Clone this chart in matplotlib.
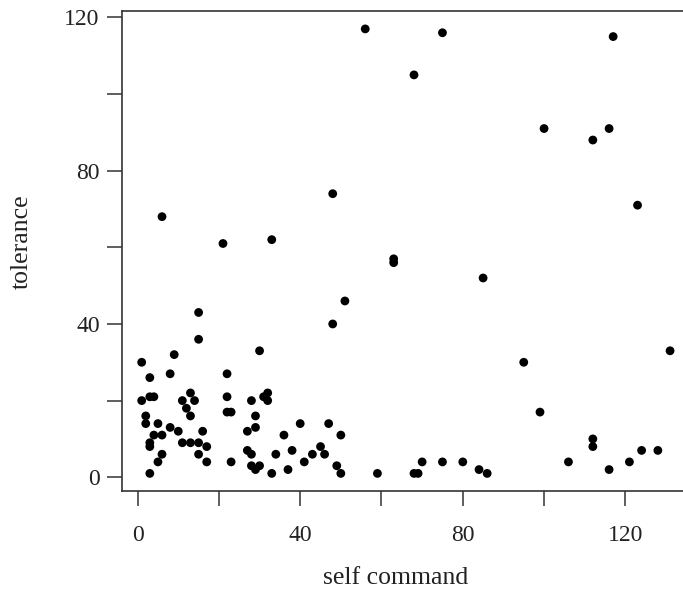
import matplotlib.pyplot as plt

# values
self_command = [56, 48, 6, 21, 33, 63, 63, 51,
                75, 117, 68, 100, 116, 112, 123, 85,
                48, 95, 131, 99, 47, 50, 49, 50, 59, 68, 69, 70, 75, 80, 84, 86,
                106, 112, 112, 116, 121, 124, 128,
                15, 15, 1, 9, 3, 8, 22, 30, 1, 3, 4, 11, 13, 14, 12, 13, 2, 2, 5,
                4, 6, 3, 3, 8, 10, 11, 13, 15, 16, 17, 15, 6, 5, 17, 3,
                22, 22, 23, 23, 28, 31, 32, 32, 29, 29, 27, 27, 28, 28, 29, 30,
                33, 34, 36, 37, 38, 40, 41, 43, 45, 46]
tolerance = [117, 74, 68, 61, 62, 57, 56, 46,
             116, 115, 105, 91, 91, 88, 71, 52,
             40, 30, 33, 17, 14, 11, 3, 1, 1, 1, 1, 4, 4, 4, 2, 1,
             4, 10, 8, 2, 4, 7, 7,
             43, 36, 30, 32, 26, 27, 27, 33, 20, 21, 21, 20, 22, 20, 18, 16, 16, 14, 14,
             11, 11, 9, 8, 13, 12, 9, 9, 9, 12, 8, 6, 6, 4, 4, 1,
             21, 17, 17, 4, 20, 21, 22, 20, 16, 13, 12, 7, 6, 3, 2, 3,
             1, 6, 11, 2, 7, 14, 4, 6, 8, 6]

x_ticks = [0, 20, 40, 60, 80, 100, 120]
y_ticks = [0, 20, 40, 60, 80, 100, 120]
shown = [0, 40, 80, 120]

plt.rcParams['font.family'] = 'Liberation Serif'

fig = plt.figure(figsize=(6.83, 5.94), dpi=100)
# plot region runs past the right edge, like the cropped original
ax = fig.add_axes([0.178, 0.174, 0.834, 0.807])

ax.scatter(self_command, tolerance, s=40, color='black', edgecolors='none', zorder=3)

ax.set_xlim(-3.95, 136.2)
ax.set_ylim(-3.5, 121.6)

ax.set_xticks(x_ticks)
ax.set_xticklabels([str(t) if t in shown else '' for t in x_ticks])
ax.set_yticks(y_ticks)
ax.set_yticklabels([str(t) if t in shown else '' for t in y_ticks])

for sp in ax.spines.values():
    sp.set_linewidth(1.2)
    sp.set_color('#333333')
ax.tick_params(axis='both', direction='out', length=10.8, width=1.1,
               color='#333333', labelsize=17, labelcolor='#222222')
ax.tick_params(axis='x', pad=14)
ax.tick_params(axis='y', pad=5)

ax.set_xlabel('self command', fontsize=18.5, color='#222222')
ax.set_ylabel('tolerance', fontsize=18.5, color='#222222')
ax.xaxis.set_label_coords(0.481, -0.16)
ax.yaxis.set_label_coords(-0.155, 0.52)

fig.savefig('out.png', dpi=100)
